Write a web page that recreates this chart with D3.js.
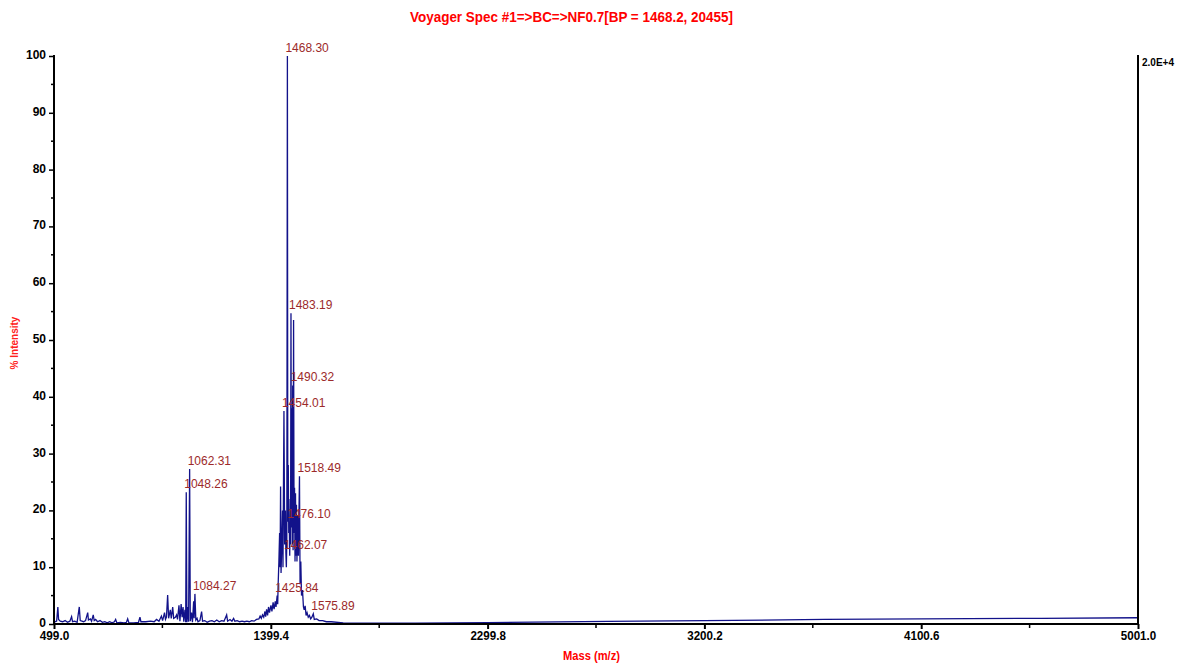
<!DOCTYPE html>
<html>
<head>
<meta charset="utf-8">
<script src="https://cdn.jsdelivr.net/npm/d3@7"></script>
<style>
  html, body { margin: 0; padding: 0; background: #fff; }
  svg { display: block; }
</style>
</head>
<body>
<svg id="chart" width="1185" height="668"></svg>
<script>
// ---- Data ----
const titleText = "Voyager Spec #1=>BC=>NF0.7[BP = 1468.2, 20455]";
const xTickValues = [499.0, 1399.4, 2299.8, 3200.2, 4100.6, 5001.0];
const xMinorTicks = [949.2, 1849.6, 2750.0, 3650.4, 4550.8];
const yTickValues = [0, 10, 20, 30, 40, 50, 60, 70, 80, 90, 100];
const yMinorTicks = [5, 15, 25, 35, 45, 55, 65, 75, 85, 95];

const spectrumMass = [
  500, 504, 510, 515, 518, 525, 535, 545, 555, 565, 572, 576, 585, 595, 604, 608, 615, 622, 630, 639,
  642, 650, 655, 662, 666, 672, 680, 690, 700, 710, 720, 730, 740, 750, 755, 760, 775, 790, 800, 805,
  810, 830, 850, 856, 860, 880, 900, 915, 925, 935, 945, 950, 958, 962, 966, 971, 975, 982, 986, 992,
  996, 1003, 1008, 1012, 1018, 1022, 1027, 1031, 1035, 1038, 1043, 1046, 1048.26, 1051, 1055, 1058, 1062.31, 1065, 1070, 1074,
  1079, 1081, 1084.27, 1088, 1093, 1097, 1105, 1112, 1116, 1125, 1135, 1145, 1155, 1165, 1175, 1185, 1195, 1205, 1216, 1220,
  1230, 1238, 1245, 1250, 1260, 1270, 1280, 1290, 1300, 1310, 1320, 1330, 1340, 1350, 1355, 1360, 1365, 1370, 1375, 1378,
  1382, 1386, 1390, 1394, 1400, 1404, 1409, 1413, 1418, 1421, 1425.84, 1428, 1430, 1433, 1436, 1438, 1440, 1442, 1445, 1448,
  1450, 1454.01, 1457, 1460, 1462.07, 1464, 1466, 1468.3, 1470, 1472, 1474, 1476.1, 1478, 1480, 1481.5, 1483.19, 1485, 1487, 1489, 1490.32,
  1492, 1494, 1496, 1498, 1500, 1502, 1504, 1506, 1508, 1511, 1514, 1518.49, 1521, 1524, 1527, 1531, 1535, 1538, 1542, 1546,
  1550, 1555, 1560, 1565, 1570, 1575.89, 1580, 1590, 1600, 1615, 1630, 1650, 1700, 1800, 2000, 2300, 2800, 3200, 3700, 4100,
  4600, 5001
];
const spectrumIntensity = [
  0.5, 0.4, 0.5, 3.0, 0.8, 0.5, 0.4, 0.6, 0.3, 0.5, 1.3, 0.4, 0.5, 0.3, 3.0, 0.6, 0.5, 0.4, 0.6, 2.0,
  0.7, 0.9, 0.5, 1.6, 0.6, 0.8, 0.4, 0.6, 0.3, 0.4, 0.2, 0.4, 0.2, 0.4, 0.8, 0.2, 0.3, 0.2, 0.3, 0.9,
  0.2, 0.2, 0.3, 1.2, 0.4, 0.4, 0.5, 0.4, 0.8, 0.5, 1.4, 0.6, 2.0, 0.8, 1.2, 5.1, 1.0, 2.5, 1.0, 3.0,
  1.0, 1.2, 1.6, 0.8, 3.3, 0.5, 3.5, 1.2, 3.0, 0.4, 2.5, 0.3, 23.2, 0.3, 3.0, 0.4, 27.3, 0.5, 2.0, 0.3,
  4.0, 1.0, 5.3, 0.7, 1.0, 0.4, 0.6, 2.2, 0.5, 0.6, 0.3, 0.5, 0.6, 0.4, 0.7, 0.4, 0.6, 0.5, 1.6, 0.5,
  0.8, 0.5, 1.0, 0.5, 0.6, 0.4, 0.5, 0.4, 0.5, 0.4, 0.6, 0.5, 0.8, 0.9, 1.4, 1.0, 1.6, 1.2, 2.2, 1.3,
  2.6, 1.5, 3.0, 2.0, 3.3, 2.2, 3.8, 2.6, 4.0, 3.0, 5.0, 3.5, 7, 11, 16, 10, 24.2, 9, 14, 20,
  10, 37.5, 14, 20, 12.5, 10, 15, 100, 18, 28, 16, 18, 12, 22, 14, 54.7, 17, 38, 14, 42,
  13, 53.5, 16, 24, 11, 23, 12, 21, 11, 19, 12, 26, 7, 11, 5, 6, 3, 2.5, 3.2, 1.5,
  2.0, 1.2, 1.5, 0.9, 1.2, 1.8, 0.8, 0.9, 0.6, 0.6, 0.4, 0.4, 0.2, 0.15, 0.15, 0.25, 0.45, 0.6, 0.8, 0.9,
  1.0, 1.1
];

const peakLabelMass = [1468.30, 1483.19, 1490.32, 1454.01, 1518.49, 1476.10, 1462.07, 1425.84, 1575.89, 1062.31, 1048.26, 1084.27];
const peakLabelIntensity = [100, 54.7, 42, 37.5, 26, 18, 12.5, 5.0, 1.8, 27.3, 23.2, 5.3];

// ---- Layout ----
const svg = d3.select("#chart");
const mLeft = 54, mRight = 1138, mTop = 56, mBottom = 624;
const sansFont = "'Liberation Sans', Arial, sans-serif";

const x = d3.scaleLinear().domain([499.0, 5001.0]).range([mLeft, mRight]);
const y = d3.scaleLinear().domain([0, 100]).range([mBottom, mTop]);

// Title (condensed look via textLength)
svg.append("text")
  .attr("x", 410).attr("y", 22)
  .attr("font-family", sansFont)
  .attr("fill", "#ff0000")
  .attr("font-weight", "bold")
  .attr("font-size", 15)
  .attr("textLength", 323)
  .attr("lengthAdjust", "spacingAndGlyphs")
  .text(titleText);

// Spectrum line
const pts = spectrumMass.map((m, i) => [m, spectrumIntensity[i]]);
svg.append("path")
  .datum(pts)
  .attr("fill", "none")
  .attr("stroke", "#12128a")
  .attr("stroke-width", 1.3)
  .attr("stroke-linejoin", "miter")
  .attr("d", d3.line().x(d => x(d[0])).y(d => y(d[1])));

// Y axis
const yAxis = svg.append("g").attr("transform", `translate(${mLeft},0)`)
  .call(d3.axisLeft(y).tickValues(yTickValues).tickFormat(d3.format("d")).tickSize(5).tickPadding(3));
yAxis.select(".domain").attr("stroke", "#000").attr("stroke-width", 2).attr("d", `M0,${mTop - 1}V${mBottom}`);
yAxis.selectAll(".tick line").attr("stroke", "#000").attr("stroke-width", 1.5);
yAxis.selectAll(".tick text")
  .attr("font-family", sansFont)
  .attr("dy", "0.2em")
  .attr("font-weight", "bold").attr("font-size", 12).attr("fill", "#000");
svg.append("g").selectAll("line").data(yMinorTicks).join("line")
  .attr("x1", mLeft - 3).attr("x2", mLeft)
  .attr("y1", d => y(d)).attr("y2", d => y(d))
  .attr("stroke", "#000").attr("stroke-width", 1.5);

// X axis
const xAxis = svg.append("g").attr("transform", `translate(0,${mBottom})`)
  .call(d3.axisBottom(x).tickValues(xTickValues).tickFormat(d3.format(".1f")).tickSize(5).tickPadding(1));
xAxis.select(".domain").attr("stroke", "#000").attr("stroke-width", 2).attr("d", `M${mLeft - 1},0H${mRight + 1}`);
xAxis.selectAll(".tick line").attr("stroke", "#000").attr("stroke-width", 2);
xAxis.selectAll(".tick text")
  .attr("font-family", sansFont)
  .attr("dy", "0.8em")
  .attr("font-weight", "bold").attr("font-size", 12).attr("fill", "#000")
  .attr("textLength", function () { return this.textContent.length * 5.9; })
  .attr("lengthAdjust", "spacingAndGlyphs");
svg.append("g").selectAll("line").data(xMinorTicks).join("line")
  .attr("x1", d => x(d)).attr("x2", d => x(d))
  .attr("y1", mBottom).attr("y2", mBottom + 4)
  .attr("stroke", "#000").attr("stroke-width", 1.5);

// Right axis
svg.append("line")
  .attr("x1", mRight).attr("x2", mRight)
  .attr("y1", mTop - 1).attr("y2", mBottom)
  .attr("stroke", "#000").attr("stroke-width", 2);
svg.append("text")
  .attr("x", mRight + 4).attr("y", y(100) + 10)
  .attr("font-family", sansFont)
  .attr("font-weight", "bold").attr("font-size", 10)
  .attr("fill", "#000")
  .text("2.0E+4");

// Axis titles
svg.append("text")
  .attr("transform", `translate(18,${(mTop + mBottom) / 2 + 3}) rotate(-90)`)
  .attr("text-anchor", "middle")
  .attr("font-family", sansFont)
  .attr("font-weight", "bold").attr("font-size", 10)
  .attr("fill", "#ff2020")
  .text("% Intensity");
svg.append("text")
  .attr("x", 563).attr("y", 660)
  .attr("font-family", sansFont)
  .attr("font-weight", "bold").attr("font-size", 12)
  .attr("fill", "#ff0000")
  .attr("textLength", 57)
  .attr("lengthAdjust", "spacingAndGlyphs")
  .text("Mass (m/z)");

// Peak labels
svg.append("g").selectAll("text")
  .data(peakLabelMass.map((m, i) => ({ m, v: peakLabelIntensity[i] })))
  .join("text")
  .attr("x", d => x(d.m) - 2)
  .attr("y", d => y(d.v) - 4)
  .attr("font-family", sansFont)
  .attr("font-size", 12)
  .attr("fill", "#9c2a2a")
  .text(d => d.m.toFixed(2));
</script>
</body>
</html>
